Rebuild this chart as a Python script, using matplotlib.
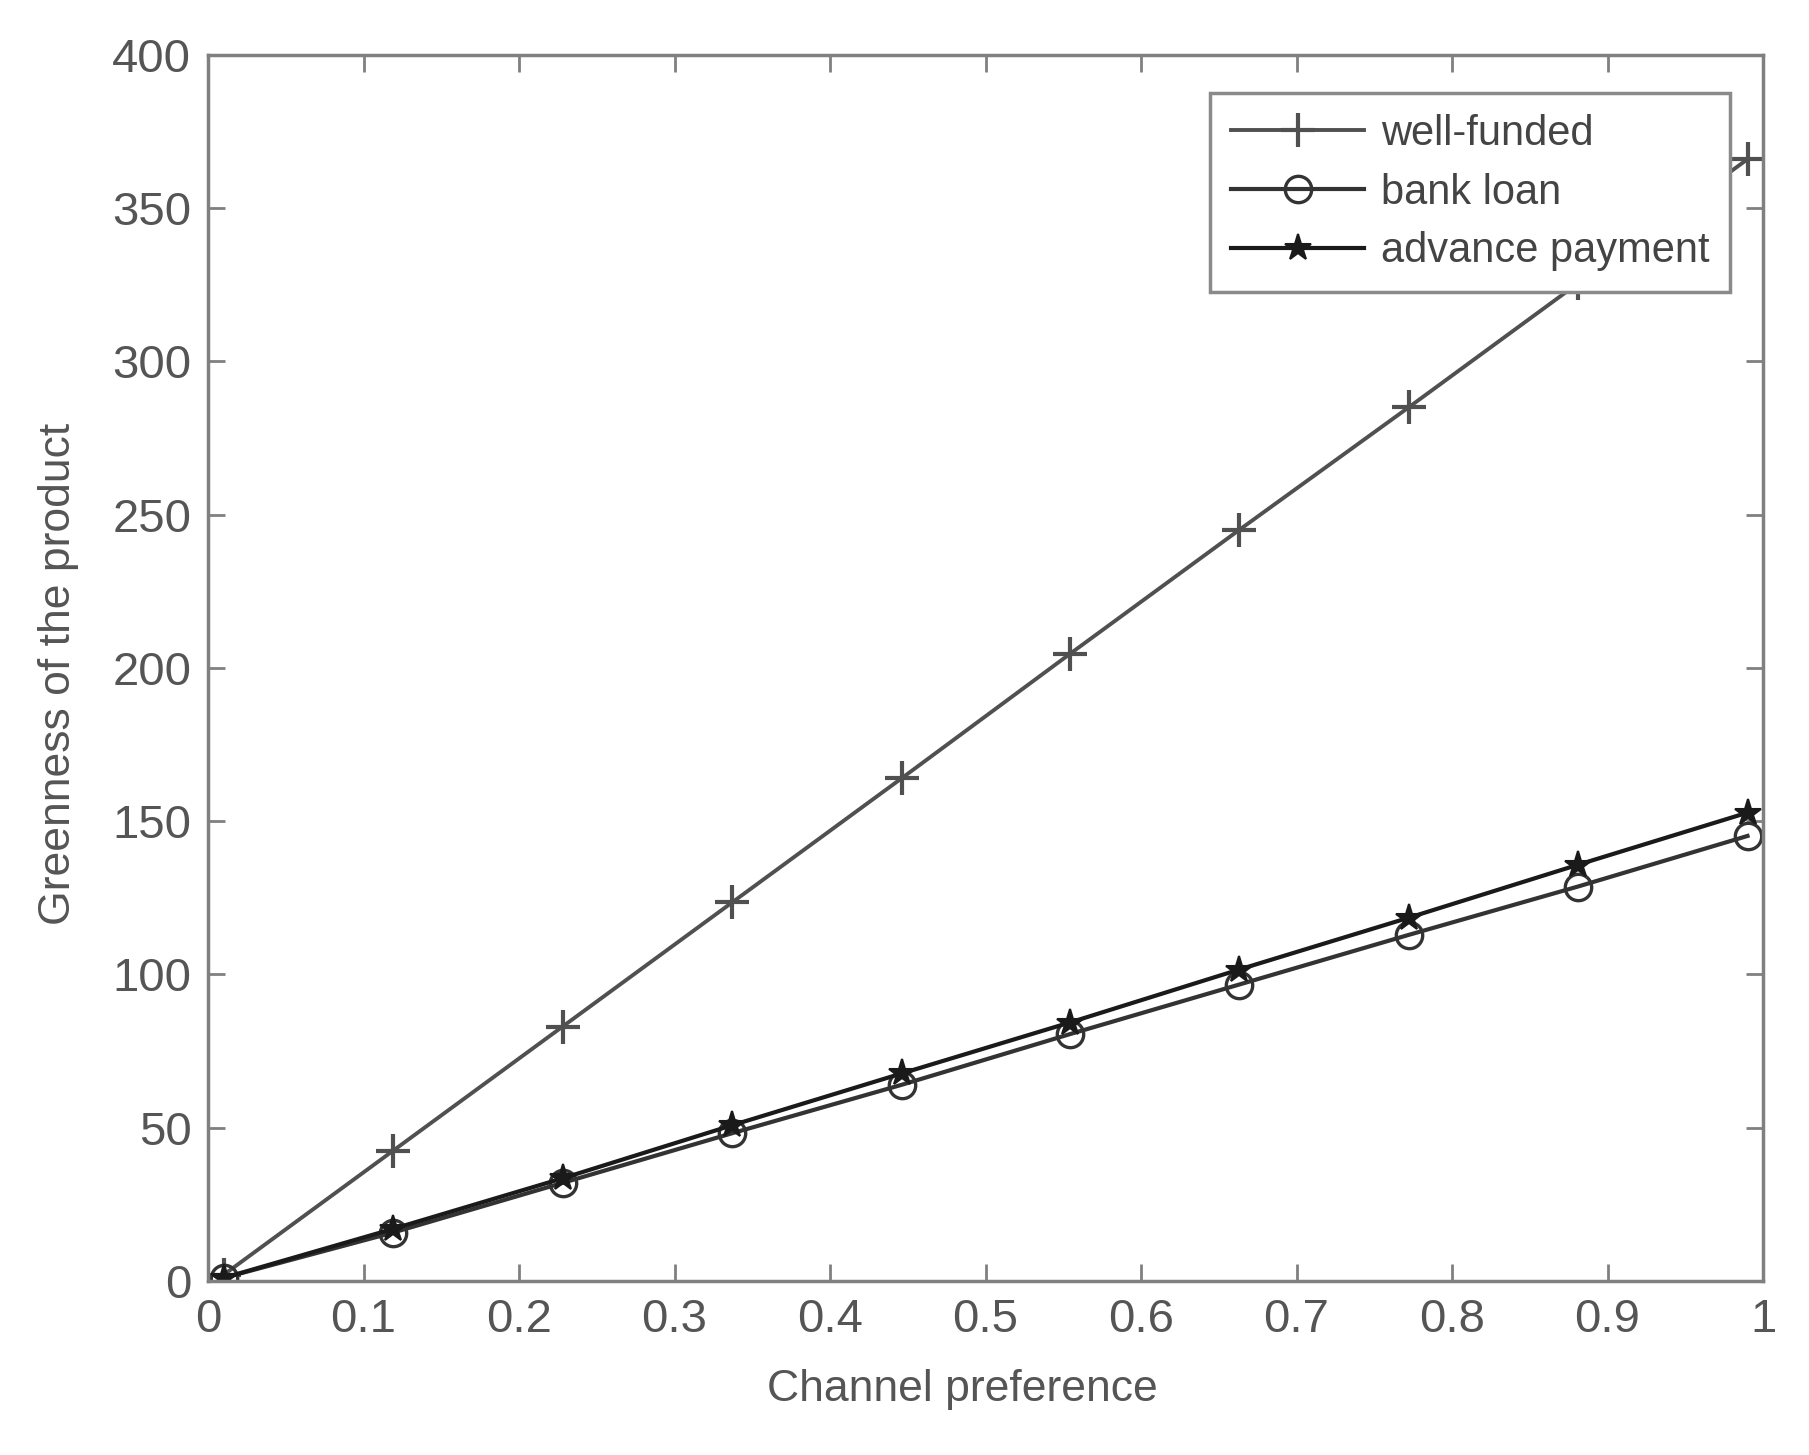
import matplotlib
matplotlib.use("Agg")
import matplotlib.pyplot as plt
import numpy as np

plt.rcParams['font.family'] = ['Liberation Sans', 'DejaVu Sans']

x = [0.01, 0.119, 0.228, 0.337, 0.446, 0.554, 0.663, 0.772, 0.881, 0.99]
well_funded = [2, 42.5, 83, 123.5, 164, 204.5, 245, 285, 325.5, 366]
bank_loan = [1, 15.8, 32, 48.2, 64, 80.5, 96.7, 112.9, 128.7, 145.2]
advance_payment = [1, 17, 33.5, 50.8, 67.7, 84.3, 101.6, 118.5, 135.8, 152.8]
xticks = [0, 0.1, 0.2, 0.3, 0.4, 0.5, 0.6, 0.7, 0.8, 0.9, 1]
xticklabels = ['0', '0.1', '0.2', '0.3', '0.4', '0.5', '0.6', '0.7', '0.8', '0.9', '1']
yticks = [0, 50, 100, 150, 200, 250, 300, 350, 400]

fig = plt.figure(figsize=(18.09, 14.55), dpi=100)
ax = fig.add_axes([0.115, 0.1196, 0.8596, 0.8426])

gray_text = '#555555'
spine_col = '#808080'

ax.plot(x, well_funded, color='#505050', lw=2.8, marker='+', ms=24, mew=3,
        label='well-funded')
ax.plot(x, bank_loan, color='#333333', lw=3, marker='o', ms=19, mew=2.4,
        mfc='none', label='bank loan')
ax.plot(x, advance_payment, color='#1a1a1a', lw=3, marker='*', ms=20, mew=1.5,
        label='advance payment')

ax.set_xlim(0, 1)
ax.set_ylim(0, 400)
ax.set_xticks(xticks)
ax.set_xticklabels(xticklabels)
ax.set_yticks(yticks)

ax.tick_params(direction='in', length=12, width=2, colors=spine_col,
               labelcolor=gray_text, labelsize=34, top=True, right=True, pad=12)
for s in ax.spines.values():
    s.set_color(spine_col)
    s.set_linewidth(2.5)

ax.set_xlabel('Channel preference', fontsize=32, color=gray_text)
ax.xaxis.set_label_coords(0.485, -0.072)
ax.set_ylabel('Greenness of the product', fontsize=32, color=gray_text)
ax.yaxis.set_label_coords(-0.083, 0.495)

leg = ax.legend(loc='upper right', bbox_to_anchor=(0.979, 0.969), fontsize=30,
                frameon=True, fancybox=False, edgecolor='#8a8a8a',
                framealpha=1, borderaxespad=0,
                handlelength=3.2, borderpad=0.5, labelspacing=0.45,
                handletextpad=0.4)
leg.get_frame().set_linewidth(2.5)
for t in leg.get_texts():
    t.set_color('#444444')

fig.savefig('out.png', dpi=100, facecolor='white')
